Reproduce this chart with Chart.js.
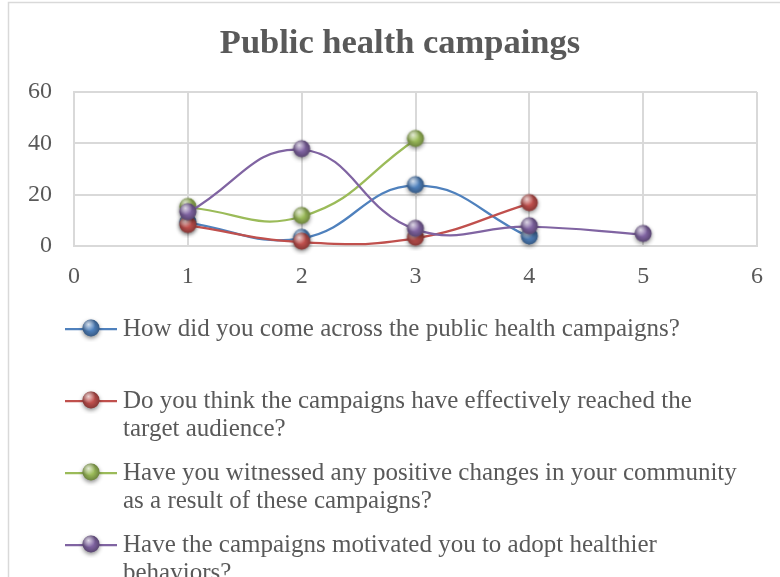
<!DOCTYPE html>
<html lang="en">
<head>
    <meta charset="UTF-8">
    <title>Public health campaings</title>
    <style>
        body {
            margin: 0;
            background: #ffffff;
        }
        canvas {
            display: block;
        }
    </style>
</head>
<body>
    <canvas id="campaignChart" width="780" height="577"></canvas>
    <script src="https://cdn.jsdelivr.net/npm/chart.js"></script>
    <script>
        const chartTitle = 'Public health campaings';
        // legend labels, one entry per text line
        const seriesNames = [
            ['How did you come across the public health campaigns?'],
            ['Do you think the campaigns have effectively reached the', 'target audience?'],
            ['Have you witnessed any positive changes in your community', 'as a result of these campaigns?'],
            ['Have the campaigns motivated you to adopt healthier', 'behaviors?']
        ];
        const xValues = [1, 2, 3, 4, 5];
        const cameAcross = [9, 3, 23.5, 3.5];
        const reachedAudience = [8, 1.5, 3, 16.5];
        const positiveChanges = [15, 11.5, 41.5];
        const motivatedHealthier = [13, 37.5, 6.5, 7.5, 4.5];
        const xTicks = [0, 1, 2, 3, 4, 5, 6];
        const yTicks = [0, 20, 40, 60];

        const seriesValues = [cameAcross, reachedAudience, positiveChanges, motivatedHealthier];
        const seriesColors = ['#4F81BD', '#C0504D', '#9BBB59', '#8064A2'];
        const textColor = '#595959';
        const gridColor = '#d9d9d9';
        const serif = "'Liberation Serif', 'Times New Roman', serif";

        // glossy ball used for markers, both on the plot and in the legend
        function makeBall(color) {
            const c = document.createElement('canvas');
            c.width = 26;
            c.height = 26;
            const g = c.getContext('2d');
            const cx = 13, cy = 12, r = 8.5;
            g.save();
            g.shadowColor = 'rgba(0,0,0,0.45)';
            g.shadowBlur = 4;
            g.shadowOffsetY = 2;
            g.beginPath();
            g.arc(cx, cy, r, 0, Math.PI * 2);
            g.fillStyle = color;
            g.fill();
            g.restore();

            const shade = g.createRadialGradient(cx, cy, r * 0.3, cx, cy, r);
            shade.addColorStop(0, 'rgba(0,0,0,0)');
            shade.addColorStop(1, 'rgba(0,0,0,0.3)');
            g.beginPath();
            g.arc(cx, cy, r, 0, Math.PI * 2);
            g.fillStyle = shade;
            g.fill();

            const shine = g.createRadialGradient(cx - 2.5, cy - 3.5, 0, cx - 2.5, cy - 3.5, r * 0.8);
            shine.addColorStop(0, 'rgba(255,255,255,0.75)');
            shine.addColorStop(1, 'rgba(255,255,255,0)');
            g.beginPath();
            g.arc(cx, cy, r, 0, Math.PI * 2);
            g.fillStyle = shine;
            g.fill();
            return c;
        }

        const balls = seriesColors.map(makeBall);

        const datasets = seriesValues.map((values, i) => ({
            label: seriesNames[i].join(' '),
            lines: seriesNames[i],
            data: values.map((v, j) => ({ x: xValues[j], y: v })),
            borderColor: seriesColors[i],
            backgroundColor: seriesColors[i],
            borderWidth: 2.25,
            pointStyle: balls[i],
            pointRadius: 8,
            tension: 0.45,
            order: seriesValues.length - i,
            clip: false
        }));

        // white background, outer frame and the title
        const framePlugin = {
            id: 'frame',
            beforeDraw(chart) {
                const ctx = chart.ctx;
                ctx.save();
                ctx.fillStyle = '#ffffff';
                ctx.fillRect(0, 0, chart.width, chart.height);
                ctx.strokeStyle = gridColor;
                ctx.lineWidth = 1.5;
                ctx.strokeRect(8.5, 2.5, chart.width, chart.height);
                ctx.font = 'bold 34.5px ' + serif;
                ctx.fillStyle = textColor;
                ctx.textAlign = 'center';
                ctx.textBaseline = 'alphabetic';
                ctx.fillText(chartTitle, 400, 53);
                ctx.restore();
            }
        };

        // legend below the plot
        const lineLegendPlugin = {
            id: 'lineLegend',
            afterDraw(chart) {
                const ctx = chart.ctx;
                const top = 329, step = 72, lineGap = 28.5;
                const lineX0 = 65, lineX1 = 117, markX = 91, textX = 123;
                ctx.save();
                ctx.font = '25px ' + serif;
                ctx.textBaseline = 'middle';
                chart.data.datasets.forEach((ds, i) => {
                    const y = top + i * step;
                    ctx.strokeStyle = ds.borderColor;
                    ctx.lineWidth = 2.25;
                    ctx.beginPath();
                    ctx.moveTo(lineX0, y);
                    ctx.lineTo(lineX1, y);
                    ctx.stroke();
                    const ball = balls[i];
                    ctx.drawImage(ball, markX - ball.width / 2, y - ball.height / 2);
                    ctx.fillStyle = textColor;
                    ds.lines.forEach((t, k) => ctx.fillText(t, textX, y + k * lineGap));
                });
                ctx.restore();
            }
        };

        new Chart(document.getElementById('campaignChart'), {
            type: 'line',
            data: { datasets: datasets },
            options: {
                responsive: false,
                animation: false,
                events: [],
                layout: {
                    padding: { left: 4, right: 23, top: 92, bottom: 291 }
                },
                plugins: {
                    legend: { display: false },
                    tooltip: { enabled: false },
                    title: { display: false }
                },
                scales: {
                    x: {
                        type: 'linear',
                        min: xTicks[0],
                        max: xTicks[xTicks.length - 1],
                        afterBuildTicks: scale => { scale.ticks = xTicks.map(v => ({ value: v })); },
                        afterFit: scale => { scale.height = 40; },
                        grid: { color: gridColor, lineWidth: 2, drawTicks: false },
                        border: { color: gridColor, width: 2 },
                        ticks: { color: textColor, font: { family: serif, size: 24 }, padding: 16, maxRotation: 0 }
                    },
                    y: {
                        min: yTicks[0],
                        max: yTicks[yTicks.length - 1],
                        afterBuildTicks: scale => { scale.ticks = yTicks.map(v => ({ value: v })); },
                        afterFit: scale => { scale.width = 70; },
                        grid: { color: gridColor, lineWidth: 2, drawTicks: false },
                        border: { color: gridColor, width: 2 },
                        ticks: { color: textColor, font: { family: serif, size: 24 }, padding: 22 }
                    }
                }
            },
            plugins: [framePlugin, lineLegendPlugin]
        });
    </script>
</body>
</html>
